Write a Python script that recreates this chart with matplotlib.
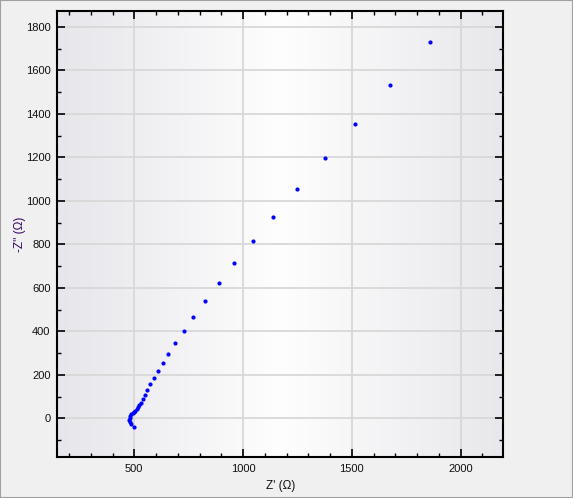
import numpy as np
import matplotlib
matplotlib.use("Agg")
import matplotlib.pyplot as plt
from matplotlib.patches import Rectangle
from matplotlib.ticker import MultipleLocator

z_real = [1861, 1677, 1514, 1376, 1248, 1136, 1045, 958, 888, 824, 770, 728, 687,
          653, 630, 609, 591, 572, 557, 548, 539, 529, 523, 517, 511, 505, 499,
          493, 486, 482, 479, 477, 480, 485, 499]
z_imag = [1731, 1533, 1354, 1197, 1055, 926, 816, 714, 622, 540, 466, 402, 346,
          296, 254, 218, 185, 158, 130, 109, 90, 72, 61, 51, 41, 35, 30,
          24, 18, 11, 1, -8, -17, -26, -40]

xlabel = "Z' (Ω)"
ylabel = "-Z'' (Ω)"

plt.rcParams['font.family'] = ['Liberation Sans', 'DejaVu Sans']

fig = plt.figure(figsize=(5.73, 4.98), dpi=100)
fig.patch.set_facecolor('#f0f0f0')
fig.patches.append(Rectangle((0, 0), 1, 1, transform=fig.transFigure, fill=False,
                             edgecolor='#a0a0a0', linewidth=1.5))

ax = fig.add_axes([0.1003, 0.0823, 0.7775, 0.8956])
ax.set_xlim(147, 2195)
ax.set_ylim(-178, 1873)

# horizontal gradient background
t = np.linspace(0, 1, 256)
left = np.array([0.902, 0.902, 0.922])
mid = np.array([0.995, 0.995, 0.995])
right = np.array([0.91, 0.91, 0.925])
peak = 0.5
cols = np.zeros((1, 256, 3))
for i, v in enumerate(t):
    if v <= peak:
        f = v / peak
        cols[0, i] = left + (mid - left) * f
    else:
        f = (v - peak) / (1 - peak)
        cols[0, i] = mid + (right - mid) * f
ax.imshow(cols, extent=(0, 1, 0, 1), transform=ax.transAxes, aspect='auto', zorder=0)

ax.plot(z_real, z_imag, linestyle='none', marker='o', markersize=2.0,
        color='#0000ff', zorder=3)

ax.xaxis.set_major_locator(MultipleLocator(500))
ax.xaxis.set_minor_locator(MultipleLocator(100))
ax.yaxis.set_major_locator(MultipleLocator(200))
ax.yaxis.set_minor_locator(MultipleLocator(100))
ax.grid(True, which='major', color='#d8d8d8', linewidth=1.3, zorder=1)
ax.set_axisbelow(True)

ax.tick_params(which='both', direction='in', top=True, right=True,
               labelsize=8, labelcolor='#101010', color='black')
ax.tick_params(which='major', length=6, width=1.2, pad=5)
ax.tick_params(which='minor', length=3, width=1.0)
for s in ax.spines.values():
    s.set_linewidth(1.5)
    s.set_color('black')

ax.set_xlabel(xlabel, fontsize=8.5, color='#101010', labelpad=4)
fig.text(20 / 573, 1 - 234 / 498, ylabel, rotation=90, ha='center', va='center',
         fontsize=8.5, color='#330066')

fig.savefig('out.png', dpi=100, facecolor=fig.get_facecolor())
